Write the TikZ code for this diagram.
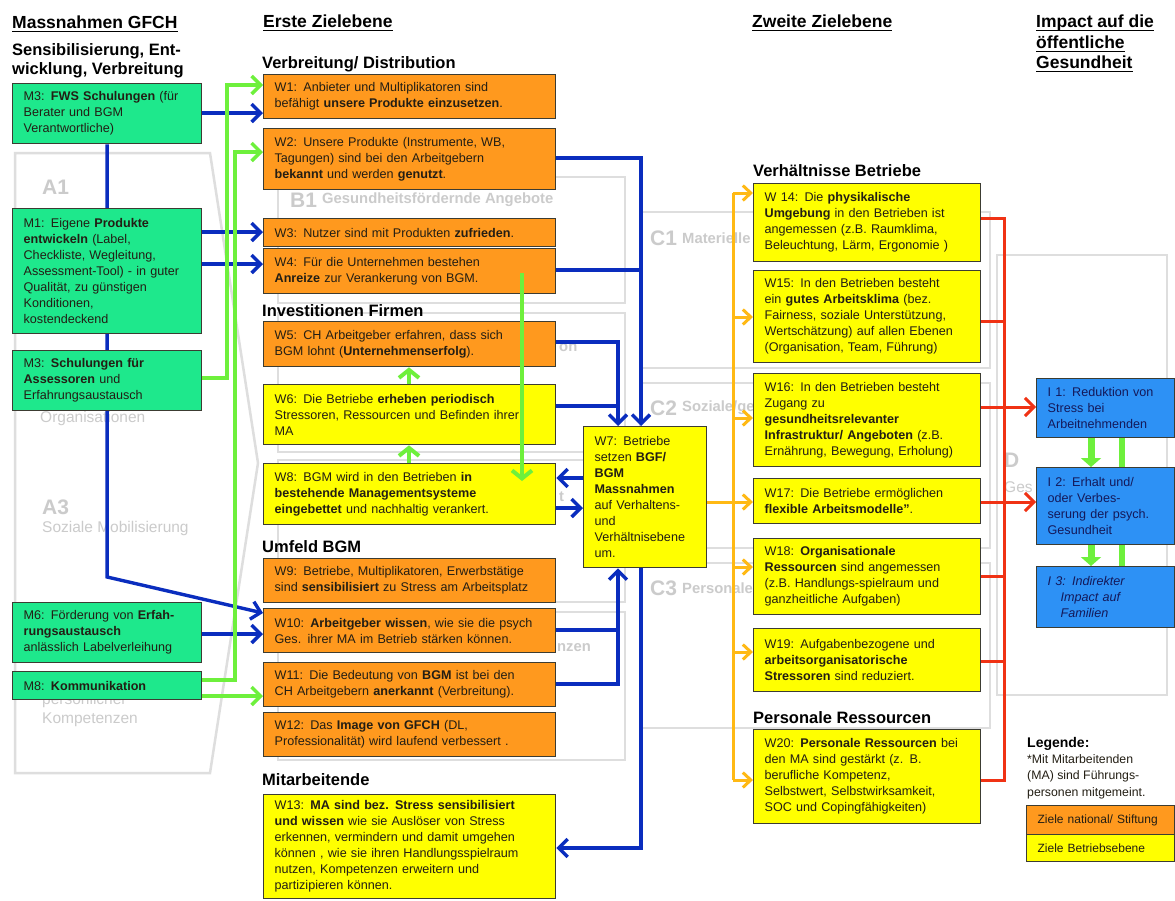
\documentclass[tikz,border=0pt]{standalone}
\usepackage{fontspec}
\setmainfont{Liberation Sans}
\usetikzlibrary{arrows.meta}
\pgfdeclarelayer{bg}
\pgfdeclarelayer{conn}
\pgfsetlayers{bg,conn,main}
\definecolor{boxgreen}{RGB}{30,232,140}
\definecolor{boxorange}{RGB}{255,153,30}
\definecolor{boxyellow}{RGB}{255,255,0}
\definecolor{boxblue}{RGB}{45,145,245}
\definecolor{lineblue}{RGB}{10,45,190}
\definecolor{linegreen}{RGB}{110,240,60}
\definecolor{lineorange}{RGB}{255,185,20}
\definecolor{linered}{RGB}{240,50,20}
\definecolor{bggray}{RGB}{222,222,222}
\definecolor{bgtext}{RGB}{203,203,203}
\definecolor{edge}{RGB}{60,60,50}
\definecolor{txt}{RGB}{35,30,20}
\definecolor{navy}{RGB}{20,25,90}
\tikzset{
 box/.style={draw=edge, line width=1.3pt, anchor=north west, inner xsep=11pt, inner ysep=2pt, align=left, text=txt, font=\fontsize{12.6}{16}\selectfont},
 mbox/.style={box, fill=boxgreen, minimum width=189pt, text width=167pt},
 wo/.style={box, fill=boxorange, minimum width=292pt, text width=270pt},
 wy/.style={box, fill=boxyellow, minimum width=292pt, text width=270pt},
 ry/.style={box, fill=boxyellow, minimum width=227pt, text width=205pt},
 ibox/.style={box, fill=boxblue, text=navy, minimum width=138pt, text width=116pt},
 hdr/.style={anchor=base west, inner sep=0pt, text=black, font=\bfseries\fontsize{16.5}{19}\selectfont},
 ttl/.style={anchor=base west, inner sep=0pt, text=black, font=\bfseries\fontsize{17.5}{20}\selectfont},
 ulin/.style={line width=1.3pt, black},
 bgline/.style={draw=bggray, line width=2.5pt},
 bglab/.style={anchor=west, inner sep=0pt, text=bgtext, font=\bfseries\fontsize{21}{24}\selectfont},
 bgtxt/.style={anchor=west, inner sep=0pt, text=bgtext, font=\fontsize{15.5}{18}\selectfont},
 bgtxtb/.style={anchor=west, inner sep=0pt, text=bgtext, font=\bfseries\fontsize{14.8}{18}\selectfont},
 bline/.style={draw=lineblue, line width=3.4pt},
 barrow/.style={bline, -{Straight Barb[length=9pt,width=18pt]}},
 gline/.style={draw=linegreen, line width=3.4pt},
 garrow/.style={gline, -{Straight Barb[length=9pt,width=18pt]}},
 gup/.style={draw=linegreen, line width=4pt, -{Straight Barb[length=8pt,width=20pt]}},
 gbig/.style={draw=linegreen, line width=7pt, -{Triangle[length=9pt,width=20pt]}},
 gthick/.style={draw=linegreen, line width=6pt},
 oline/.style={draw=lineorange, line width=3pt},
 oarrow/.style={oline, -{Straight Barb[length=8pt,width=15pt]}},
 rline/.style={draw=linered, line width=3pt},
 rarrow/.style={rline, -{Straight Barb[length=9pt,width=18pt]}},
}
\begin{document}
\begin{tikzpicture}[x=1pt,y=-1pt]
\useasboundingbox (0,0) rectangle (1175,900);
\begin{pgfonlayer}{bg}
\fill[white] (0,0) rectangle (1175,900);
% faded background structure
\draw[bgline] (15,153) -- (210,153) -- (258,463) -- (210,773) -- (15,773) -- cycle;
\draw[bgline] (278,177) rectangle (625,303);
\draw[bgline] (278,313) rectangle (625,452);
\draw[bgline] (278,460) rectangle (625,602);
\draw[bgline] (278,612) rectangle (625,760);
\draw[bgline] (640,212) rectangle (990,368);
\draw[bgline] (640,383) rectangle (990,548);
\draw[bgline] (640,563) rectangle (990,728);
\draw[bgline] (997,255) rectangle (1167,695);
\node[bglab] (bA1) at (42,187) {A1};
\node[bgtxt] (bA2t) at (40,418) {Organisationen};
\node[bglab] (bA3) at (42,507) {A3};
\node[bgtxt] (bA3t) at (42,528) {Soziale Mobilisierung};
\node[bgtxt] (bA4a) at (42,700) {persönlicher};
\node[bgtxt] (bA4b) at (42,720) {Kompetenzen};
\node[bglab] (bB1) at (290,200) {B1};
\node[bgtxtb] (bB1t) at (322,200) {Gesundheitsfördernde Angebote};
\node[bgtxtb] (bB2t) at (559,348) {on};
\node[bgtxtb] (bB3t) at (559,497) {t};
\node[bgtxtb] (bB4t) at (557,648) {nzen};
\node[bglab] (bC1) at (650,238) {C1};
\node[bgtxtb] (bC1t) at (682,238) {Materielle};
\node[bglab] (bC2) at (650,408) {C2};
\node[bgtxtb] (bC2t) at (682,408) {Soziale/ge};
\node[bglab] (bC3) at (650,588) {C3};
\node[bgtxtb] (bC3t) at (682,588) {Personale};
\node[bglab] (bD) at (1004,460) {D};
\node[bgtxt] (bDt) at (1004,487) {Ges};
\end{pgfonlayer}

% headings
\node[ttl] (t1) at (12,28) {Massnahmen GFCH};
\node[ttl] (t2) at (263,27) {Erste Zielebene};
\node[ttl] (t3) at (752,27) {Zweite Zielebene};
\node[ttl] (t4a) at (1036,27) {Impact auf die};
\node[ttl] (t4b) at (1036,48) {öffentliche};
\node[ttl] (t4c) at (1036,68) {Gesundheit};
\foreach \t in {t1,t2,t3,t4a,t4b,t4c}
  \draw[ulin] ([yshift=-3.5pt]\t.base west) -- ([yshift=-3.5pt]\t.base east);
\node[hdr] (s1) at (12,55) {Sensibilisierung, Ent-};
\node[hdr] (s2) at (12,74) {wicklung, Verbreitung};
\node[hdr] (h1) at (262,68) {Verbreitung/ Distribution};
\node[hdr] (h2) at (262,316) {Investitionen Firmen};
\node[hdr] (h3) at (262,552) {Umfeld BGM};
\node[hdr] (h4) at (262,785) {Mitarbeitende};
\node[hdr] (h5) at (753,176) {Verhältnisse Betriebe};
\node[hdr] (h6) at (753,723) {Personale Ressourcen};

% Massnahmen
\node[mbox, minimum height=60pt] (M3a) at (12,83) {M3: \textbf{FWS Schulungen} (für\\ Berater und BGM\\ Verantwortliche)};
\node[mbox, minimum height=125pt] (M1) at (12,208) {M1: Eigene \textbf{Produkte}\\ \textbf{entwickeln} (Label,\\ Checkliste, Wegleitung,\\ Assessment-Tool) - in guter\\ Qualität, zu günstigen\\ Konditionen,\\ kostendeckend};
\node[mbox, minimum height=60pt] (M3b) at (12,350) {M3: \textbf{Schulungen für}\\ \textbf{Assessoren} und\\ Erfahrungsaustausch};
\node[mbox, minimum height=60pt] (M6) at (12,602) {M6: Förderung von \textbf{Erfah-}\\ \textbf{rungsaustausch}\\ anlässlich Labelverleihung};
\node[mbox, minimum height=28pt] (M8) at (12,671) {M8: \textbf{Kommunikation}};

% Erste Zielebene
\node[wo, minimum height=44pt] (W1) at (263,74) {W1: Anbieter und Multiplikatoren sind\\ befähigt \textbf{unsere Produkte einzusetzen}.};
\node[wo, minimum height=61pt] (W2) at (263,128) {W2: Unsere Produkte (Instrumente, WB,\\ Tagungen) sind bei den Arbeitgebern\\ \textbf{bekannt} und werden \textbf{genutzt}.};
\node[wo, minimum height=28pt] (W3) at (263,218) {W3: Nutzer sind mit Produkten \textbf{zufrieden}.};
\node[wo, minimum height=45pt] (W4) at (263,248) {W4: Für die Unternehmen bestehen\\ \textbf{Anreize} zur Verankerung von BGM.};
\node[wo, minimum height=45pt] (W5) at (263,321) {W5: CH Arbeitgeber erfahren, dass sich\\ BGM lohnt (\textbf{Unternehmenserfolg}).};
\node[wy, minimum height=60pt] (W6) at (263,384) {W6: Die Betriebe \textbf{erheben periodisch}\\ Stressoren, Ressourcen und Befinden ihrer\\ MA};
\node[wy, minimum height=61pt] (W8) at (263,463) {W8: BGM wird in den Betrieben \textbf{in}\\ \textbf{bestehende Managementsysteme}\\ \textbf{eingebettet} und nachhaltig verankert.};
\node[wo, minimum height=44pt] (W9) at (263,558) {W9: Betriebe, Multiplikatoren, Erwerbstätige\\ sind \textbf{sensibilisiert} zu Stress am Arbeitsplatz};
\node[wo, minimum height=44pt] (W10) at (263,608) {W10: \textbf{Arbeitgeber wissen}, wie sie die psych\\ Ges. ihrer MA im Betrieb stärken können.};
\node[wo, minimum height=44pt] (W11) at (263,662) {W11: Die Bedeutung von \textbf{BGM} ist bei den\\ CH Arbeitgebern \textbf{anerkannt} (Verbreitung).};
\node[wo, minimum height=44pt] (W12) at (263,712) {W12: Das \textbf{Image von GFCH} (DL,\\ Professionalität) wird laufend verbessert .};
\node[wy, minimum height=104pt] (W13) at (263,794) {W13: \textbf{MA sind bez. Stress sensibilisiert}\\ \textbf{und wissen} wie sie Auslöser von Stress\\ erkennen, vermindern und damit umgehen\\ können , wie sie ihren Handlungsspielraum\\ nutzen, Kompetenzen erweitern und\\ partizipieren können.};
\node[box, fill=boxyellow, minimum width=123pt, text width=101pt, minimum height=141pt] (W7) at (583,426) {W7: Betriebe\\ setzen \textbf{BGF/}\\ \textbf{BGM}\\ \textbf{Massnahmen}\\ auf Verhaltens-\\ und\\ Verhältnisebene\\ um.};

% Zweite Zielebene
\node[ry, minimum height=78pt] (W14) at (753,183) {W 14: Die \textbf{physikalische}\\ \textbf{Umgebung} in den Betrieben ist\\ angemessen (z.B. Raumklima,\\ Beleuchtung, Lärm, Ergonomie )};
\node[ry, minimum height=92pt] (W15) at (753,270) {W15: In den Betrieben besteht\\ ein \textbf{gutes Arbeitsklima} (bez.\\ Fairness, soziale Unterstützung,\\ Wertschätzung) auf allen Ebenen\\ (Organisation, Team, Führung)};
\node[ry, minimum height=93pt] (W16) at (753,373) {W16: In den Betrieben besteht\\ Zugang zu\\ \textbf{gesundheitsrelevanter}\\ \textbf{Infrastruktur/ Angeboten} (z.B.\\ Ernährung, Bewegung, Erholung)};
\node[ry, minimum height=45pt] (W17) at (753,478) {W17: Die Betriebe ermöglichen\\ \textbf{flexible Arbeitsmodelle”}.};
\node[ry, minimum height=76pt] (W18) at (753,538) {W18: \textbf{Organisationale}\\ \textbf{Ressourcen} sind angemessen\\ (z.B. Handlungs-spielraum und\\ ganzheitliche Aufgaben)};
\node[ry, minimum height=63pt] (W19) at (753,628) {W19: Aufgabenbezogene und\\ \textbf{arbeitsorganisatorische}\\ \textbf{Stressoren} sind reduziert.};
\node[ry, minimum height=94pt] (W20) at (753,729) {W20: \textbf{Personale Ressourcen} bei\\ den MA sind gestärkt (z. B.\\ berufliche Kompetenz,\\ Selbstwert, Selbstwirksamkeit,\\ SOC und Copingfähigkeiten)};

% Impact
\node[ibox, minimum height=59pt] (I1) at (1036,378) {I 1: Reduktion von\\ Stress bei\\ Arbeitnehmenden};
\node[ibox, minimum height=77pt] (I2) at (1036,467) {I 2: Erhalt und/\\ oder Verbes-\\ serung der psych.\\ Gesundheit};
\node[ibox, minimum height=61pt] (I3) at (1036,566) {\itshape I 3: Indirekter\\ \hspace*{13pt}Impact auf\\ \hspace*{13pt}Familien};

% Legend
\node[anchor=base west, inner sep=0pt, font=\bfseries\fontsize{14}{17}\selectfont] (leg) at (1027,747) {Legende:};
\node[anchor=north west, inner sep=0pt, align=left, text=txt, font=\fontsize{12.3}{16.5}\selectfont] (legt) at (1027,754) {*Mit Mitarbeitenden\\ (MA) sind Führungs-\\ personen mitgemeint.};
\node[box, fill=boxorange, minimum width=148pt, text width=126pt, minimum height=29pt, font=\fontsize{12}{14}\selectfont] (L1) at (1026,805) {Ziele national/ Stiftung};
\node[box, fill=boxyellow, minimum width=148pt, text width=126pt, minimum height=27pt, font=\fontsize{12}{14}\selectfont] (L2) at (1026,834) {Ziele Betriebsebene};

% connectors (under the boxes)
\begin{pgfonlayer}{conn}
% blue
\draw[barrow] (M3a.east |- 0,113) -- (W1.west |- 0,113);
\draw[barrow] (M3a.south) -- (M3a.south |- 0,577) -- (W10.west |- 0,613);
\draw[barrow] (M1.east |- 0,232) -- (W3.west |- 0,232);
\draw[barrow] (M1.east |- 0,264) -- (W4.west |- 0,264);
\draw[barrow] (M6.east |- 0,634) -- (W10.west |- 0,634);
\draw[barrow] (W2.east |- 0,158) -- (641,158) -- (W7.north -| 641,0);
\draw[bline] (W4.east |- 0,270) -- (641,270);
\draw[barrow] (W5.east |- 0,342) -- (618,342) -- (W7.north -| 618,0);
\draw[bline] (W6.east |- 0,406) -- (618,406);
\draw[barrow] (W7.west |- 0,478) -- (W8.east |- 0,478);
\draw[barrow] (W8.east |- 0,508) -- (W7.west |- 0,508);
\draw[barrow] (W10.east |- 0,630) -- (618,630) -- (W7.south -| 618,0);
\draw[bline] (W11.east |- 0,684) -- (618,684) -- (618,628);
\draw[barrow] (W7.south -| 641,0) -- (641,848) -- (W13.east |- 0,848);
% green
\draw[garrow] (M3b.east |- 0,378) -- (227,378) -- (227,85) -- (W1.west |- 0,85);
\draw[garrow] (M8.east |- 0,680) -- (235,680) -- (235,152) -- (W2.west |- 0,152);
\draw[garrow] (M8.east |- 0,696) -- (W11.west |- 0,696);
\draw[gup] (W8.north -| 409,0) -- (W6.south -| 409,0);
\draw[gup] (W6.north -| 409,0) -- (W5.south -| 409,0);
% orange
\draw[oline] (W7.east |- 0,502) -- (733,502);
\draw[oline] (733,193) -- (733,780);
\draw[oarrow] (733,193) -- (W14.west |- 0,193);
\draw[oarrow] (733,317) -- (W15.west |- 0,317);
\draw[oarrow] (733,418) -- (W16.west |- 0,418);
\draw[oarrow] (733,502) -- (W17.west |- 0,502);
\draw[oarrow] (733,567) -- (W18.west |- 0,567);
\draw[oarrow] (733,652) -- (W19.west |- 0,652);
\draw[oarrow] (733,780) -- (W20.west |- 0,780);
% red
\draw[rline] (W14.east |- 0,218) -- (1004,218) -- (1004,780) -- (W20.east |- 0,780);
\draw[rline] (W15.east |- 0,321) -- (1004,321);
\draw[rline] (W18.east |- 0,576) -- (1004,576);
\draw[rline] (W19.east |- 0,661) -- (1004,661);
\draw[rarrow] (W16.east |- 0,407) -- (I1.west |- 0,407);
\draw[rarrow] (W17.east |- 0,502) -- (I2.west |- 0,502);
% impact
\draw[gthick] (I1.south -| 1122,0) -- (I3.north -| 1122,0);
\draw[gbig] (I1.south -| 1091,0) -- (I2.north -| 1091,0);
\draw[gbig] (I2.south -| 1091,0) -- (I3.north -| 1091,0);
\end{pgfonlayer}

% green arrow drawn over W4 into W8
\coordinate (g4) at (522,273);
\coordinate (g8) at (522,481);
\draw[gup] (g4) -- (g8);
\end{tikzpicture}
\end{document}
